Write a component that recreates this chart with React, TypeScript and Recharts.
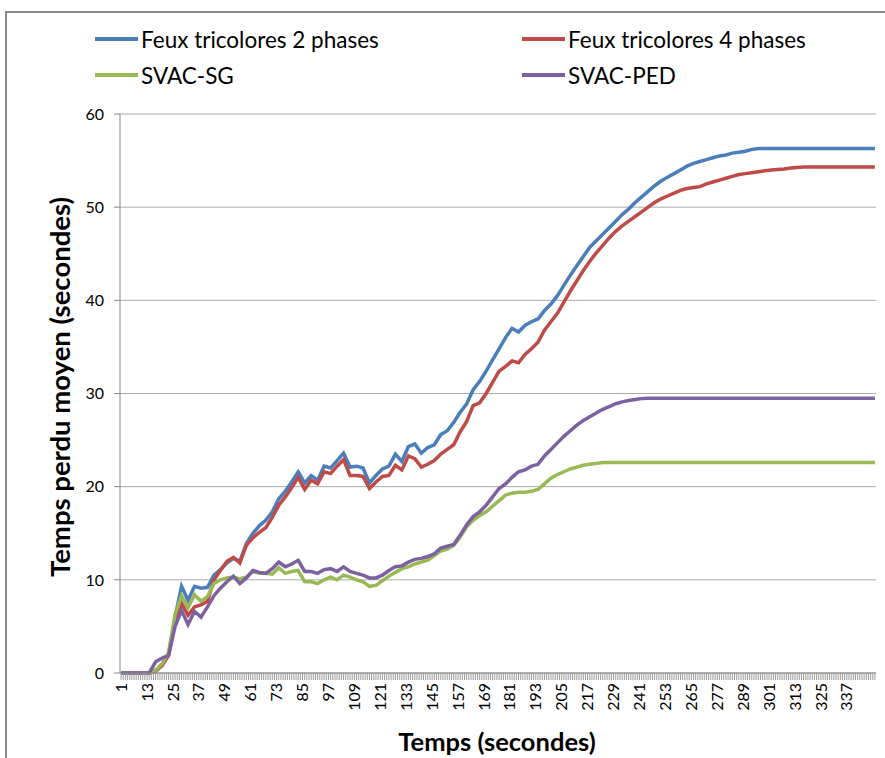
import { LineChart, Line, XAxis, YAxis, CartesianGrid, Label } from 'recharts'

const TIMES = [
  1, 2, 5, 8, 11, 14, 17, 20, 23, 26, 29, 32, 35, 38, 41, 44, 47, 50, 53, 56,
  59, 62, 65, 68, 71, 74, 77, 80, 83, 86, 89, 92, 95, 98, 101, 104, 107, 110, 113, 116,
  119, 122, 125, 128, 131, 134, 137, 140, 143, 146, 149, 152, 155, 158, 161, 164, 167, 170, 173, 176,
  179, 182, 185, 188, 191, 194, 197, 200, 203, 206, 209, 212, 215, 218, 221, 224, 227, 230, 233, 236,
  239, 242, 245, 248, 251, 254, 257, 260, 263, 266, 269, 272, 275, 278, 281, 284, 287, 290, 293, 296,
  299, 302, 305, 308, 311, 314, 317, 320, 323, 326, 329, 332, 335, 338, 341, 344, 347, 350,
]

const FEUX_2 = [
  0, 0, 0, 0, 0, 0, 0.3, 0.9, 2.0, 6.0, 9.3, 7.8, 9.3, 9.1, 9.2, 10.5, 11.1, 11.8, 12.3, 12.0,
  13.9, 15.0, 15.8, 16.4, 17.3, 18.7, 19.5, 20.5, 21.6, 20.4, 21.2, 20.7, 22.2, 22.0, 22.8, 23.6, 22.1, 22.2, 22.0, 20.4,
  21.2, 21.9, 22.2, 23.5, 22.7, 24.3, 24.6, 23.6, 24.2, 24.5, 25.6, 26.0, 26.9, 28.0, 28.9, 30.4, 31.3, 32.4, 33.6, 34.8,
  36.0, 37.0, 36.6, 37.3, 37.7, 38.0, 38.9, 39.6, 40.5, 41.6, 42.7, 43.7, 44.7, 45.7, 46.4, 47.1, 47.8, 48.5, 49.2, 49.8,
  50.5, 51.1, 51.7, 52.3, 52.8, 53.2, 53.6, 54.0, 54.4, 54.7, 54.9, 55.1, 55.3, 55.5, 55.6, 55.8, 55.9, 56.0, 56.2, 56.3,
  56.3, 56.3, 56.3, 56.3, 56.3, 56.3, 56.3, 56.3, 56.3, 56.3, 56.3, 56.3, 56.3, 56.3, 56.3, 56.3, 56.3, 56.3,
]

const FEUX_4 = [
  0, 0, 0, 0, 0, 0, 0.2, 0.8, 1.9, 5.5, 7.5, 6.2, 7.1, 7.3, 7.7, 10.0, 11.0, 12.0, 12.4, 11.8,
  13.7, 14.5, 15.1, 15.6, 16.7, 18.0, 18.9, 19.9, 21.0, 19.7, 20.7, 20.3, 21.6, 21.4, 22.2, 22.9, 21.2, 21.2, 21.1, 19.8,
  20.5, 21.1, 21.2, 22.3, 21.8, 23.3, 23.0, 22.1, 22.4, 22.8, 23.5, 24.0, 24.5, 25.9, 27.0, 28.7, 29.0, 30.0, 31.2, 32.4,
  32.9, 33.5, 33.3, 34.2, 34.8, 35.5, 36.8, 37.7, 38.6, 39.8, 41.0, 42.1, 43.2, 44.2, 45.1, 45.9, 46.7, 47.4, 48.0, 48.5,
  49.0, 49.5, 50.0, 50.5, 50.9, 51.2, 51.5, 51.8, 52.0, 52.1, 52.2, 52.5, 52.7, 52.9, 53.1, 53.3, 53.5, 53.6, 53.7, 53.8,
  53.9, 54.0, 54.05, 54.1, 54.2, 54.25, 54.3, 54.3, 54.3, 54.3, 54.3, 54.3, 54.3, 54.3, 54.3, 54.3, 54.3, 54.3,
]

const SVAC_SG = [
  0, 0, 0, 0, 0, 0, 0.3, 1.0, 2.2, 6.3, 8.3, 7.0, 8.4, 7.7, 8.2, 9.6, 10.0, 10.2, 10.3, 10.1,
  10.3, 10.9, 10.7, 10.7, 10.6, 11.3, 10.7, 10.9, 11.0, 9.8, 9.8, 9.6, 10.0, 10.3, 10.0, 10.5, 10.3, 10.0, 9.8, 9.3,
  9.4, 9.9, 10.4, 10.8, 11.2, 11.4, 11.7, 11.9, 12.1, 12.6, 13.1, 13.3, 13.7, 14.6, 15.7, 16.4, 16.9, 17.3, 17.9, 18.5,
  19.1, 19.3, 19.4, 19.4, 19.5, 19.7, 20.3, 20.9, 21.3, 21.6, 21.9, 22.1, 22.3, 22.4, 22.5, 22.6, 22.6, 22.6, 22.6, 22.6,
  22.6, 22.6, 22.6, 22.6, 22.6, 22.6, 22.6, 22.6, 22.6, 22.6, 22.6, 22.6, 22.6, 22.6, 22.6, 22.6, 22.6, 22.6, 22.6, 22.6,
  22.6, 22.6, 22.6, 22.6, 22.6, 22.6, 22.6, 22.6, 22.6, 22.6, 22.6, 22.6, 22.6, 22.6, 22.6, 22.6, 22.6, 22.6,
]

const SVAC_PED = [
  0, 0, 0, 0, 0, 0, 1.2, 1.6, 1.9, 5.0, 6.7, 5.2, 6.6, 6.0, 7.1, 8.3, 9.1, 9.8, 10.4, 9.6,
  10.2, 11.0, 10.8, 10.7, 11.2, 11.9, 11.4, 11.7, 12.1, 10.9, 10.9, 10.7, 11.1, 11.2, 10.9, 11.4, 10.9, 10.7, 10.5, 10.2,
  10.2, 10.5, 11.0, 11.4, 11.5, 11.9, 12.2, 12.3, 12.5, 12.8, 13.4, 13.6, 13.8, 14.8, 15.9, 16.8, 17.3, 18.0, 18.9, 19.8,
  20.3, 21.0, 21.6, 21.8, 22.2, 22.4, 23.3, 24.0, 24.7, 25.4, 26.0, 26.6, 27.1, 27.5, 27.9, 28.3, 28.6, 28.9, 29.1, 29.25,
  29.35, 29.45, 29.5, 29.5, 29.5, 29.5, 29.5, 29.5, 29.5, 29.5, 29.5, 29.5, 29.5, 29.5, 29.5, 29.5, 29.5, 29.5, 29.5, 29.5,
  29.5, 29.5, 29.5, 29.5, 29.5, 29.5, 29.5, 29.5, 29.5, 29.5, 29.5, 29.5, 29.5, 29.5, 29.5, 29.5, 29.5, 29.5,
]

const X_LABELS = [
  1, 13, 25, 37, 49, 61, 73, 85, 97, 109, 121, 133, 145, 157, 169, 181, 193, 205, 217, 229,
  241, 253, 265, 277, 289, 301, 313, 325, 337,
]
const Y_TICKS = [0, 10, 20, 30, 40, 50, 60]
const N_CATEGORIES = 350

const SERIES = [
  { key: 'feux2', name: 'Feux tricolores 2 phases', color: '#4a7ebb' },
  { key: 'feux4', name: 'Feux tricolores 4 phases', color: '#be4b48' },
  { key: 'sg', name: 'SVAC-SG', color: '#98b954' },
  { key: 'ped', name: 'SVAC-PED', color: '#7d60a0' },
]

const data = TIMES.map((t, i) => ({
  t,
  feux2: FEUX_2[i],
  feux4: FEUX_4[i],
  sg: SVAC_SG[i],
  ped: SVAC_PED[i],
}))

// one small tick per second, label only every 12 s like the original
const allTicks = Array.from({ length: N_CATEGORIES }, (_, i) => i + 1)
const labelSet = new Set(X_LABELS)

const FONT = 'Lato, "Open Sans", sans-serif'

function XTick(props: any) {
  const { x, y, payload } = props
  if (!labelSet.has(payload.value)) return null
  return (
    <text
      x={x}
      y={y}
      transform={`rotate(-90 ${x} ${y})`}
      textAnchor="end"
      dy="0.35em"
      fontSize={16}
      fontFamily={FONT}
      fill="#000"
    >
      {payload.value}
    </text>
  )
}

function LegendBox() {
  const pos = [
    { left: 95, top: 40 },
    { left: 522, top: 40 },
    { left: 95, top: 76 },
    { left: 522, top: 76 },
  ]
  return (
    <>
      {SERIES.map((s, i) => (
        <div
          key={s.key}
          style={{
            position: 'absolute',
            left: pos[i].left,
            top: pos[i].top - 16,
            height: 30,
            display: 'flex',
            alignItems: 'center',
            fontFamily: FONT,
            fontSize: 22.5,
            color: '#000',
            whiteSpace: 'nowrap',
          }}
        >
          <span style={{ display: 'inline-block', width: 43, height: 4, background: s.color, marginRight: 3 }} />
          {s.name}
        </div>
      ))}
    </>
  )
}

export default function App() {
  return (
    <div style={{ position: 'absolute', left: 0, top: 0, width: 885, height: 758, overflow: 'hidden', background: '#fff' }}>
      <div
        style={{
          position: 'absolute',
          left: 5,
          top: 11,
          width: 920,
          height: 800,
          border: '2px solid #8a8a8a',
        }}
      />
      <LegendBox />
      <div style={{ position: 'absolute', left: 0, top: 0 }}>
        <LineChart width={885} height={758} data={data} margin={{ top: 114, right: 9, left: 60, bottom: 40 }}>
          <CartesianGrid vertical={false} stroke="#aaaaaa" />
          <XAxis
            type="number"
            dataKey="t"
            domain={[0.5, N_CATEGORIES + 0.5]}
            ticks={allTicks}
            interval={0}
            height={45}
            tickSize={7}
            tickMargin={3}
            tick={<XTick />}
            tickLine={{ stroke: '#9a9a9a' }}
            axisLine={{ stroke: '#868686' }}
          >
            <Label
              content={() => (
                <text x={497} y={741} textAnchor="middle" dominantBaseline="central" fontFamily={FONT} fontSize={25.5} fontWeight="bold" fill="#000">
                  Temps (secondes)
                </text>
              )}
            />
          </XAxis>
          <YAxis
            type="number"
            domain={[0, 60]}
            ticks={Y_TICKS}
            interval={0}
            width={60}
            tickSize={6}
            tickMargin={10}
            tick={{ fontSize: 16, fontFamily: FONT, fill: '#000' }}
            tickLine={{ stroke: '#868686' }}
            axisLine={{ stroke: '#868686' }}
          >
            <Label
              content={() => (
                <text
                  x={59}
                  y={387}
                  transform="rotate(-90 59 387)"
                  textAnchor="middle"
                  dominantBaseline="central"
                  fontFamily={FONT}
                  fontSize={27.5}
                  fontWeight="bold"
                  fill="#000"
                >
                  Temps perdu moyen (secondes)
                </text>
              )}
            />
          </YAxis>
          {SERIES.map((s) => (
            <Line
              key={s.key}
              type="linear"
              dataKey={s.key}
              name={s.name}
              stroke={s.color}
              strokeWidth={3.5}
              dot={false}
              isAnimationActive={false}
            />
          ))}
        </LineChart>
      </div>
    </div>
  )
}
